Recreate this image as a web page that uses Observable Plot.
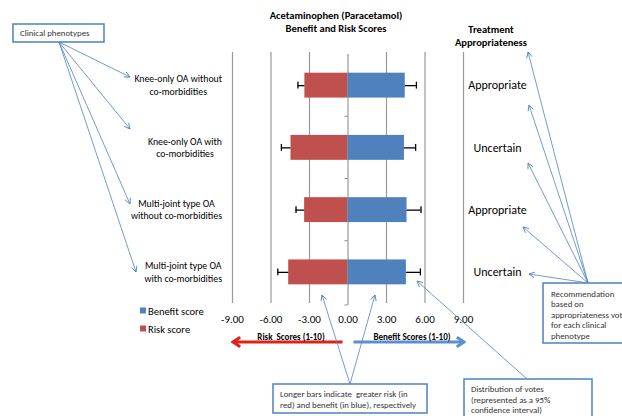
<!DOCTYPE html>
<html><head><meta charset="utf-8">
<script src="https://cdn.jsdelivr.net/npm/d3@7"></script>
<script src="https://cdn.jsdelivr.net/npm/@observablehq/plot@0.6"></script>
<style>body{margin:0;background:#fff} svg{display:block}</style>
</head><body><div id="chart"></div>
<script>
const categories = ["Knee-only OA without\nco-morbidities", "Knee-only OA with\nco-morbidities", "Multi-joint type OA\nwithout co-morbidities", "Multi-joint type OA\nwith co-morbidities"];
const riskScores = [-3.36, -4.44, -3.38, -4.62];
const riskCILow = [-3.90, -5.19, -4.05, -5.47];
const benefitScores = [4.46, 4.40, 4.60, 4.55];
const benefitCIHigh = [5.33, 5.27, 5.69, 5.64];
const appropriateness = ["Appropriate", "Uncertain", "Appropriate", "Uncertain"];
const xTicks = [-9, -6, -3, 0, 3, 6, 9];
const gridTicks = [-9, -6, -3, 3, 6, 9];
const seriesNames = ["Benefit score", "Risk score"];
const seriesColors = ["#4f81bd", "#c0504d"];
const titleLines = ["Acetaminophen (Paracetamol)", "Benefit and Risk Scores"];
const rightTitleLines = ["Treatment", "Appropriateness"];
const axisCaptions = ["Risk  Scores (1-10)", "Benefit Scores (1-10)"];
const noteClinical = ["Clinical phenotypes"];
const noteRecommendation = ["Recommendation", "based on", "appropriateness votes", "for each clinical", "phenotype"];
const noteBars = ["Longer bars indicate  greater risk (in", "red) and benefit (in blue), respectively"];
const noteVotes = ["Distribution of votes", "(represented as a 95%", "confidence interval)"];

const rows = categories.map((c, i) => ({
  cat: c, risk: riskScores[i], riskLow: riskCILow[i],
  benefit: benefitScores[i], benefitHigh: benefitCIHigh[i], approp: appropriateness[i]
}));

const FONT = "Carlito, Lato, 'Open Sans', sans-serif";
const W = 622, H = 416;

const plot = Plot.plot({
  width: W, height: H,
  marginLeft: 232, marginRight: 159, marginTop: 54, marginBottom: 113,
  style: {fontFamily: FONT, fontSize: "11px", background: "#fff", color: "#000", overflow: "visible"},
  x: {domain: [-9, 9]},
  y: {domain: categories, paddingInner: 0.6, paddingOuter: 0.3, axis: null, round: false},
  marks: [
    Plot.ruleX(gridTicks, {stroke: "#9a9a9a", strokeWidth: 1.2, insetTop: -2}),
    Plot.ruleX([0], {stroke: "#868686", strokeWidth: 1, insetBottom: -2}),
    Plot.barX(rows, {x1: 0, x2: "risk", y: "cat", fill: seriesColors[1]}),
    Plot.barX(rows, {x1: 0, x2: "benefit", y: "cat", fill: seriesColors[0]}),
    Plot.ruleY(rows, {x1: "risk", x2: "riskLow", y: "cat", stroke: "#000", strokeWidth: 1.3}),
    Plot.tickX(rows, {x: "riskLow", y: "cat", stroke: "#000", strokeWidth: 1.3, insetTop: 9, insetBottom: 9}),
    Plot.ruleY(rows, {x1: "benefit", x2: "benefitHigh", y: "cat", stroke: "#000", strokeWidth: 1.3}),
    Plot.tickX(rows, {x: "benefitHigh", y: "cat", stroke: "#000", strokeWidth: 1.3, insetTop: 9, insetBottom: 9}),
    Plot.axisX({ticks: xTicks, tickFormat: d => d.toFixed(2), tickSize: 0, tickPadding: 12, fontSize: 11, fill: "#000"}),
    Plot.text(rows, {y: "cat", text: "approp", frameAnchor: "right", textAnchor: "middle", dx: 34, fontSize: 12, fill: "#000"})
  ]
});
document.getElementById("chart").appendChild(plot);

const svg = d3.select(plot);
const ys = plot.scale("y");
const xs = plot.scale("x");
const yc = c => ys.apply(c) + ys.bandwidth / 2;
const x0 = xs.apply(0);
const frameBottom = H - 113;

const defs = svg.append("defs");
defs.append("marker").attr("id", "openArrow").attr("viewBox", "0 0 10 10")
  .attr("refX", 9).attr("refY", 5).attr("markerWidth", 7).attr("markerHeight", 7)
  .attr("markerUnits", "userSpaceOnUse").attr("orient", "auto")
  .append("path").attr("d", "M1,1 L9,5 L1,9").attr("fill", "none").attr("stroke", "#4f81bd").attr("stroke-width", 1.2);
defs.append("marker").attr("id", "redHead").attr("viewBox", "0 0 10 10")
  .attr("refX", 8).attr("refY", 5).attr("markerWidth", 12).attr("markerHeight", 12)
  .attr("markerUnits", "userSpaceOnUse").attr("orient", "auto")
  .append("path").attr("d", "M2,1 L8,5 L2,9").attr("fill", "none").attr("stroke", "#e0201c").attr("stroke-width", 2.4);
defs.append("marker").attr("id", "blueHead").attr("viewBox", "0 0 10 10")
  .attr("refX", 8).attr("refY", 5).attr("markerWidth", 12).attr("markerHeight", 12)
  .attr("markerUnits", "userSpaceOnUse").attr("orient", "auto")
  .append("path").attr("d", "M2,1 L8,5 L2,9").attr("fill", "none").attr("stroke", "#5b8fd0").attr("stroke-width", 2.4);

const ann = svg.append("g").attr("font-family", FONT).attr("text-anchor", "start");

const centers = categories.map(yc);
const bounds = [];
for (let i = 0; i < centers.length - 1; i++) bounds.push((centers[i] + centers[i + 1]) / 2);
bounds.push(frameBottom + 2);
bounds.forEach(b => ann.append("line").attr("x1", x0 - 3).attr("x2", x0).attr("y1", b).attr("y2", b).attr("stroke", "#868686"));

categories.forEach(c => {
  const lines = c.split("\n");
  const g = ann.append("g");
  const texts = lines.map((l, i) => g.append("text").text(l).attr("font-size", 9.8).attr("fill", "#000")
    .attr("y", yc(c) + (i - (lines.length - 1) / 2) * 12.5 + 3.5));
  const maxW = d3.max(texts, t => t.node().getComputedTextLength());
  const cx = xs.apply(-9) - 10 - maxW / 2;
  texts.forEach(t => t.attr("x", cx).attr("text-anchor", "middle"));
});

titleLines.forEach((t, i) => ann.append("text").text(t).attr("x", 336).attr("y", 19 + i * 12.5)
  .attr("text-anchor", "middle").attr("font-weight", "bold").attr("font-size", 10.5).attr("fill", "#000"));
rightTitleLines.forEach((t, i) => ann.append("text").text(t).attr("x", 491).attr("y", 33 + i * 12.5)
  .attr("text-anchor", "middle").attr("font-weight", "bold").attr("font-size", 10.5).attr("fill", "#000"));

seriesNames.forEach((n, i) => {
  const y = 311 + i * 18;
  ann.append("rect").attr("x", 140).attr("y", y - 3.5).attr("width", 6).attr("height", 6).attr("fill", seriesColors[i]);
  ann.append("text").text(n).attr("x", 148).attr("y", y + 3.5).attr("font-size", 10.5).attr("fill", "#000");
});

ann.append("line").attr("x1", x0 - 5).attr("x2", xs.apply(-9) + 1).attr("y1", 342).attr("y2", 342)
  .attr("stroke", "#e0201c").attr("stroke-width", 3).attr("marker-end", "url(#redHead)");
ann.append("line").attr("x1", x0 + 6).attr("x2", xs.apply(9) + 1).attr("y1", 342).attr("y2", 342)
  .attr("stroke", "#5b8fd0").attr("stroke-width", 3).attr("marker-end", "url(#blueHead)");
ann.append("text").text(axisCaptions[0]).attr("x", 291).attr("y", 340).attr("text-anchor", "middle")
  .attr("font-weight", "bold").attr("font-size", 9).attr("fill", "#000").attr("style", "white-space:pre");
ann.append("text").text(axisCaptions[1]).attr("x", 412).attr("y", 340).attr("text-anchor", "middle")
  .attr("font-weight", "bold").attr("font-size", 9).attr("fill", "#000");

function callout(x, y, w, h, lines, tx, ty0, lh, from, targets) {
  targets.forEach(t => ann.append("line").attr("x1", from[0]).attr("y1", from[1]).attr("x2", t[0]).attr("y2", t[1])
    .attr("stroke", "#4f81bd").attr("stroke-width", 0.8).attr("marker-end", "url(#openArrow)"));
  ann.append("rect").attr("x", x).attr("y", y).attr("width", w).attr("height", h)
    .attr("fill", "#fff").attr("stroke", "#4f81bd").attr("stroke-width", 1.5);
  lines.forEach((l, i) => ann.append("text").text(l).attr("x", tx).attr("y", ty0 + i * lh)
    .attr("text-anchor", "start").attr("font-size", 8.8).attr("fill", "#333").attr("style", "white-space:pre"));
}
callout(13, 24, 91, 18, noteClinical, 20, 36, 11, [59, 42], [[130, 77], [130, 129], [130, 204], [136, 272]]);
callout(543, 283, 95, 60, noteRecommendation, 551, 296.5, 10.5, [588, 283], [[528, 52], [529, 105], [528, 163], [523, 227], [529, 274]]);
callout(273, 384, 154, 29, noteBars, 280, 396.5, 11.5, [350, 384], [[322, 295], [375, 295]]);
callout(464, 379, 128, 40, noteVotes, 471, 392, 10.5, [527, 379], [[417, 281]]);
</script>
</body></html>
